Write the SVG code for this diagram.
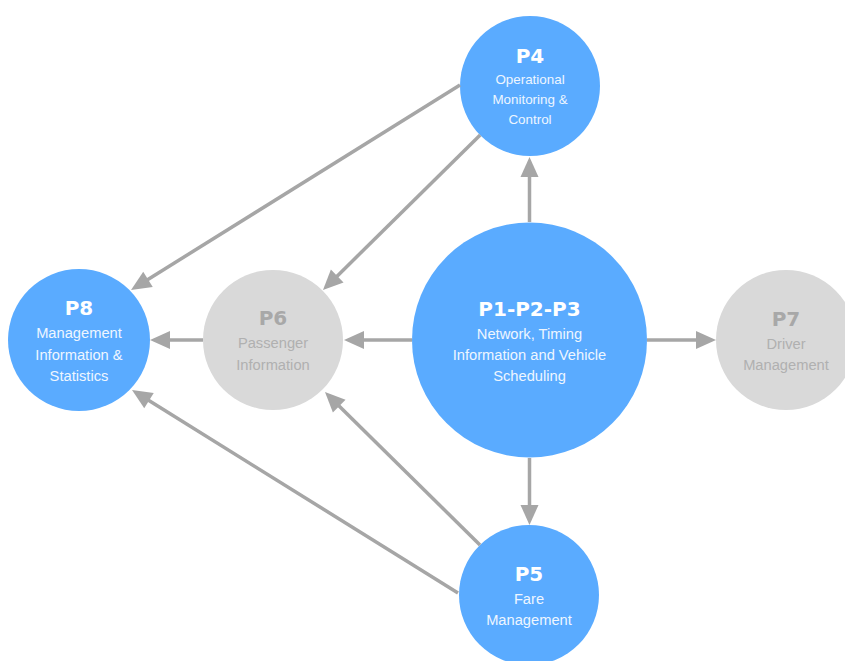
<svg xmlns="http://www.w3.org/2000/svg" width="845" height="661" viewBox="0 0 845 661">
<style>
.blue{fill:#5aabff}
.gray{fill:#d9d9d9}
.t{font-family:"DejaVu Sans",sans-serif;font-weight:bold;font-size:20px;text-anchor:middle}
.l{font-family:"Liberation Sans",Arial,sans-serif;font-size:14.7px;text-anchor:middle}
.wt{fill:#ffffff}
.wl{fill:#eef6ff}
.gt{fill:#a8a8a8}
.gl{fill:#b0b0b0}
.c{stroke:#a6a6a6;stroke-width:3.5;fill:none;marker-end:url(#ah)}
</style>
<defs>
<marker id="ah" markerUnits="userSpaceOnUse" markerWidth="20" markerHeight="18" refX="2" refY="9" orient="auto" overflow="visible">
<path d="M0,0 L20,9 L0,18 z" fill="#a6a6a6"/>
</marker>
</defs>
<rect width="845" height="661" fill="#ffffff"/>
<g id="P4">
<circle class="blue" cx="530" cy="86" r="70"/>
<text class="t wt" x="530" y="63">P4</text>
<text class="l wl" x="530" y="84" style="font-size:13.4px">Operational</text>
<text class="l wl" x="530" y="104" style="font-size:13.4px">Monitoring &amp;</text>
<text class="l wl" x="530" y="124" style="font-size:13.4px">Control</text>
</g>
<g id="P1-P2-P3">
<circle class="blue" cx="529.5" cy="340" r="117.5"/>
<text class="t wt" x="529.5" y="316">P1-P2-P3</text>
<text class="l wl" x="529.5" y="339">Network, Timing</text>
<text class="l wl" x="529.5" y="360">Information and Vehicle</text>
<text class="l wl" x="529.5" y="381">Scheduling</text>
</g>
<g id="P8">
<circle class="blue" cx="79" cy="340" r="71"/>
<text class="t wt" x="79" y="315">P8</text>
<text class="l wl" x="79" y="338">Management</text>
<text class="l wl" x="79" y="360">Information &amp;</text>
<text class="l wl" x="79" y="381">Statistics</text>
</g>
<g id="P6">
<circle class="gray" cx="273" cy="340" r="70"/>
<text class="t gt" x="273" y="325">P6</text>
<text class="l gl" x="273" y="348">Passenger</text>
<text class="l gl" x="273" y="370">Information</text>
</g>
<g id="P7">
<circle class="gray" cx="786" cy="340" r="70"/>
<text class="t gt" x="786" y="326">P7</text>
<text class="l gl" x="786" y="349">Driver</text>
<text class="l gl" x="786" y="370">Management</text>
</g>
<g id="P5">
<circle class="blue" cx="529" cy="595" r="70"/>
<text class="t wt" x="529" y="581">P5</text>
<text class="l wl" x="529" y="604">Fare</text>
<text class="l wl" x="529" y="625">Management</text>
</g>
<g id="connectors">
<line class="c" x1="529.5" y1="222" x2="529.5" y2="175"/>
<line class="c" x1="529.5" y1="458" x2="529.5" y2="507"/>
<line class="c" x1="412" y1="340" x2="362" y2="340"/>
<line class="c" x1="647" y1="340" x2="698" y2="340"/>
<line class="c" x1="203" y1="340" x2="168" y2="340"/>
<line class="c" x1="460" y1="85" x2="146.3" y2="280.5"/>
<line class="c" x1="480.2" y1="135.1" x2="335.8" y2="277.4"/>
<line class="c" x1="458" y1="593" x2="147.3" y2="399.5"/>
<line class="c" x1="480" y1="545" x2="337.8" y2="404.7"/>
</g>
</svg>
